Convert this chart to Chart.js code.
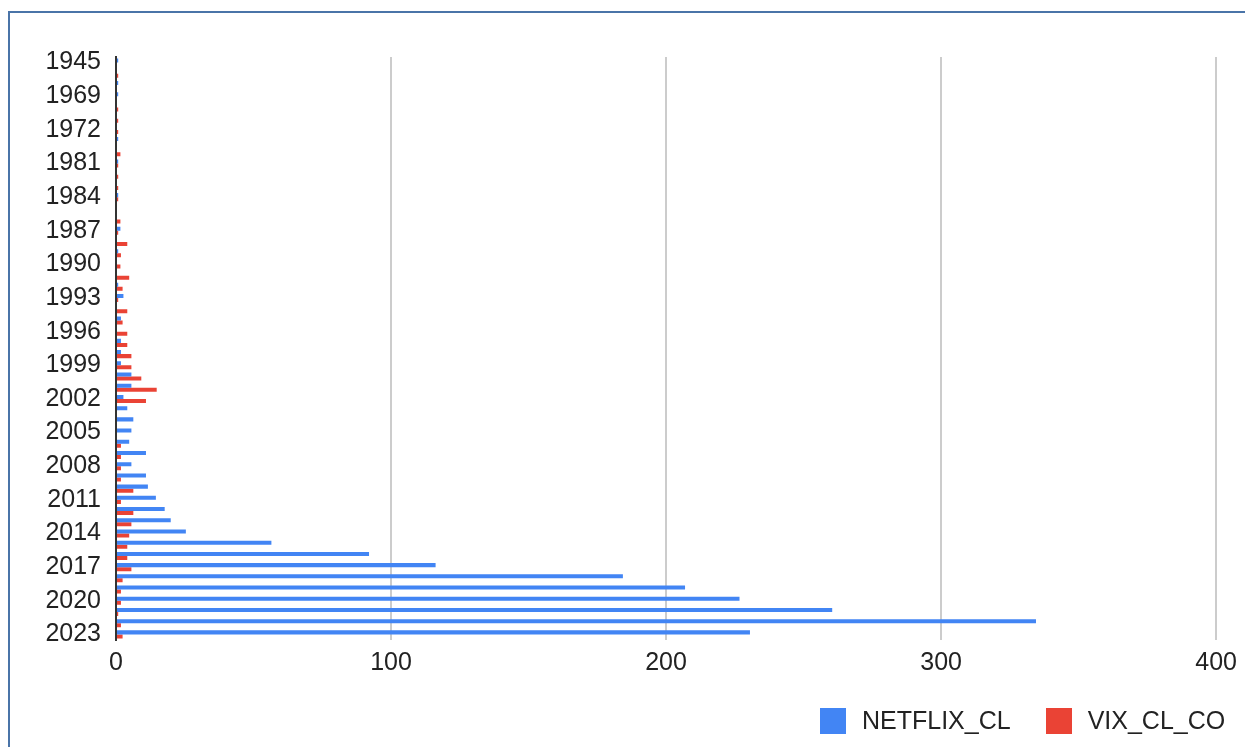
<!DOCTYPE html>
<html>
<head>
<meta charset="utf-8">
<script src="https://cdn.jsdelivr.net/npm/chart.js@4.4.0/dist/chart.umd.min.js"></script>
<style>
  html, body { margin: 0; padding: 0; background: #fff; overflow: hidden; }
  #frame { position: absolute; left: 8px; top: 11px; width: 1260px; height: 760px; border: 2px solid #4a74a8; box-sizing: border-box; }
  #chart { position: absolute; left: 0; top: 0; }
  #legend { position: absolute; left: 820px; top: 706px; display: flex; align-items: center; font: 25px Arial, "Liberation Sans", sans-serif; color: #222; }
  #legend .item { display: flex; align-items: center; margin-right: 35px; }
  #legend .box { width: 26px; height: 26px; margin-right: 16px; }
</style>
</head>
<body>
<div id="frame"></div>
<canvas id="chart" width="1245" height="747"></canvas>
<div id="legend"></div>
<script>
// カテゴリ（年）
const years = [
  '1945', '1950', '1962', '1969', '1970', '1971', '1972', '1975', '1978', '1981',
  '1982', '1983', '1984', '1985', '1986', '1987', '1988', '1989', '1990', '1991',
  '1992', '1993', '1994', '1995', '1996', '1997', '1998', '1999', '2000', '2001',
  '2002', '2003', '2004', '2005', '2006', '2007', '2008', '2009', '2010', '2011',
  '2012', '2013', '2014', '2015', '2016', '2017', '2018', '2019', '2020', '2021',
  '2022', '2023'
];

const netflixCl = [
  0.8, null, 0.8, 0.8, null, null, null, 0.8, null, 0.8,
  null, null, 0.8, null, null, 1.6, null, 0.8, null, null,
  0.8, 2.7, null, 1.8, null, 1.8, 1.8, 1.8, 5.6, 5.6,
  2.7, 4.1, 6.3, 5.6, 4.8, 10.9, 5.6, 10.9, 11.6, 14.5,
  17.7, 19.9, 25.4, 56.5, 92, 116.2, 184.3, 206.9, 226.7, 260.4,
  334.5, 230.5
];

const vixClCo = [
  null, 0.8, null, null, 0.8, 0.8, 0.8, null, 1.6, 0.8,
  0.8, 0.8, 0.8, null, 1.6, 0.8, 4.1, 1.8, 1.6, 4.8,
  2.4, 0.8, 4.1, 2.4, 4.1, 4.1, 5.6, 5.6, 9.2, 14.8,
  10.9, null, null, null, 1.8, 1.8, 1.8, 1.8, 6.3, 1.8,
  6.3, 5.6, 4.8, 4.1, 4.1, 5.6, 2.4, 1.8, 1.8, 0.8,
  1.8, 2.4
];

const xTicks = [0, 100, 200, 300, 400];

const font = { family: 'Arial, "Liberation Sans", sans-serif', size: 25 };

const chart = new Chart(document.getElementById('chart'), {
  type: 'bar',
  data: {
    labels: years,
    datasets: [
      { label: 'NETFLIX_CL', data: netflixCl, backgroundColor: '#4285f4' },
      { label: 'VIX_CL_CO', data: vixClCo, backgroundColor: '#ea4335' }
    ]
  },
  options: {
    indexAxis: 'y',
    responsive: false,
    animation: false,
    categoryPercentage: 0.72,
    barPercentage: 1,
    layout: { padding: { left: 0, top: 57, right: 28, bottom: 62 } },
    plugins: {
      tooltip: { enabled: false },
      legend: { display: false }
    },
    scales: {
      x: {
        min: 0,
        max: 400,
        afterBuildTicks: (scale) => { scale.ticks = xTicks.map(v => ({ value: v })); },
        afterFit: (scale) => { scale.height = 45; },
        grid: {
          drawTicks: false,
          lineWidth: 2,
          color: (ctx) => ctx.tick && ctx.tick.value === 0 ? 'rgba(0,0,0,0)' : '#cccccc'
        },
        border: { display: false },
        ticks: { font: font, color: '#222', padding: 8 }
      },
      y: {
        afterFit: (scale) => { scale.width = 116; },
        grid: { drawOnChartArea: false, drawTicks: false },
        border: { display: true, color: '#333', width: 2 },
        ticks: {
          font: font,
          color: '#222',
          padding: 15,
          autoSkip: false,
          callback: function (value, index) {
            // 3年おきにラベル表示
            return index % 3 === 0 ? this.getLabelForValue(value) : '';
          }
        }
      }
    }
  }
});

// 凡例（グラフ右下）
const legendDiv = document.getElementById('legend');
chart.data.datasets.forEach(ds => {
  const item = document.createElement('div');
  item.className = 'item';
  item.innerHTML = `<span class="box" style="background:${ds.backgroundColor}"></span><span>${ds.label}</span>`;
  legendDiv.appendChild(item);
});
</script>
</body>
</html>
